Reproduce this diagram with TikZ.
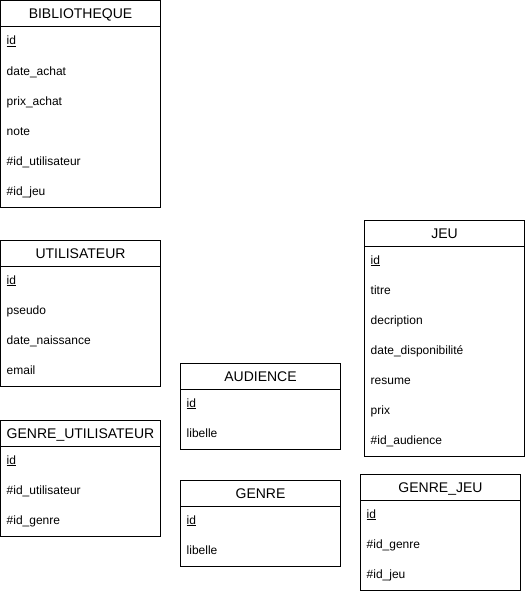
\documentclass[tikz,border=0pt]{standalone}
\usepackage{fontspec}
\setmainfont{Liberation Sans}

% one table of the model: name, x, y, number of rows, title, rows
\newcommand{\entite}[6]{%
  \draw[box] (#2,#3) rectangle ++(160,{26+30*#4});
  \draw[box] (#2,#3+26) -- ++(160,0);
  \node[hdr] (#1) at (#2+80,#3+18) {#5};
  \foreach \i/\n in {#6}
    \node[fld] (#1-\i) at (#2+6,{#3+44+30*(\i-1)}) {\n};
}

\begin{document}
\begin{tikzpicture}[
            x=1pt, y=-1pt,
            box/.style={line width=1pt},
            hdr/.style={
              font=\fontsize{14}{16}\selectfont,
              anchor=base,
              inner sep=0pt
            },
            fld/.style={
              font=\fontsize{12}{14}\selectfont,
              anchor=base west,
              inner sep=0pt
            }
        ]
    \useasboundingbox (0,0) rectangle (525,594);

    \entite{bib}{0.5}{1}{6}{BIBLIOTHEQUE}{1/\underline{id}, 2/date\_achat, 3/prix\_achat, 4/note, 5/\#id\_utilisateur, 6/\#id\_jeu}

    \entite{uti}{0.5}{240}{4}{UTILISATEUR}{1/\underline{id}, 2/pseudo, 3/date\_naissance, 4/email}

    \entite{guti}{0.5}{420}{3}{GENRE\_UTILISATEUR}{1/\underline{id}, 2/\#id\_utilisateur, 3/\#id\_genre}

    \entite{aud}{180.5}{363}{2}{AUDIENCE}{1/\underline{id}, 2/libelle}

    \entite{gen}{180.5}{480}{2}{GENRE}{1/\underline{id}, 2/libelle}

    \entite{jeu}{364.5}{220}{7}{JEU}{1/\underline{id}, 2/titre, 3/decription, 4/date\_disponibilité, 5/resume, 6/prix, 7/\#id\_audience}

    \entite{gjeu}{360.5}{474}{3}{GENRE\_JEU}{1/\underline{id}, 2/\#id\_genre, 3/\#id\_jeu}

    \end{tikzpicture}
\end{document}
